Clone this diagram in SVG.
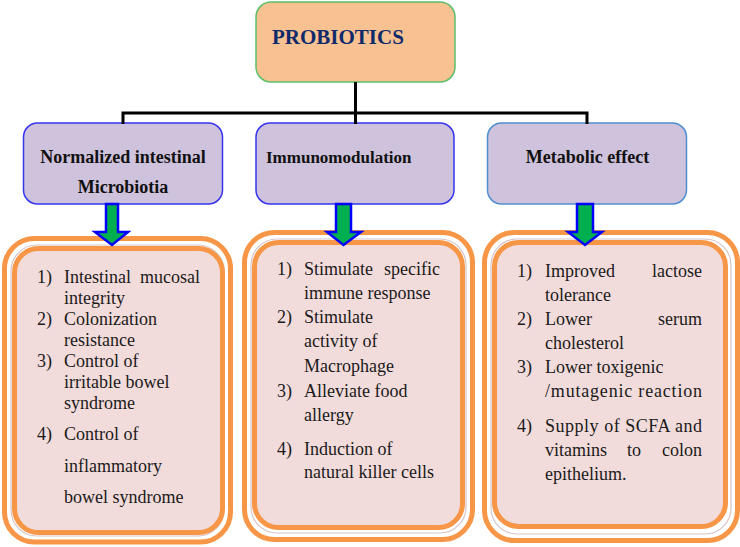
<svg xmlns="http://www.w3.org/2000/svg" width="740" height="547" viewBox="0 0 740 547">
<style>
.hdr{fill:#CFC2DC;stroke-width:1.5}
.ttl{font-weight:bold;font-size:18px;fill:#111}
.txt{font-size:18px;fill:#1a1a1a}
.ob{fill:#fff;stroke:#F79646;stroke-width:5}
.gl{fill:none;stroke:#D6C4C6;stroke-width:1.2}
.ib{fill:#F2DCDB;stroke:#F79646;stroke-width:5}
.arr{fill:#00B050;stroke:#0000FF;stroke-width:2.5;stroke-linejoin:miter}
.ln{stroke:#000;stroke-width:3;fill:none}
</style>
<rect width="740" height="547" fill="#fff"/>
<g font-family="Liberation Serif, serif">
<g id="probiotics">
<rect x="256" y="2" width="199" height="80" rx="15" fill="#F8C192" stroke="#5CBF6A" stroke-width="1.5"/>
<text x="272" y="44" font-weight="bold" font-size="21" fill="#0F2A6B">PROBIOTICS</text>
</g>
<g id="normalized">
<rect class="hdr" x="23.5" y="123" width="199" height="81" rx="14" stroke="#3535F0"/>
<text class="ttl" x="123" y="163" text-anchor="middle">Normalized intestinal</text>
<text class="ttl" x="123" y="193" text-anchor="middle">Microbiotia</text>
</g>
<g id="immunomodulation">
<rect class="hdr" x="256" y="123" width="198" height="81" rx="14" stroke="#3535F0"/>
<text class="ttl" x="266" y="163" style="font-size:17px">Immunomodulation</text>
</g>
<g id="metabolic">
<rect class="hdr" x="487.5" y="123" width="199" height="81" rx="14" stroke="#4F8FD0"/>
<text class="ttl" x="587.5" y="163" text-anchor="middle">Metabolic effect</text>
</g>
<g id="box1">
<rect class="ob" x="4.5" y="238.5" width="226" height="303.5" rx="30"/>
<rect class="gl" x="11" y="245" width="213" height="291" rx="26"/>
<rect class="ib" x="14.5" y="248.5" width="208" height="284" rx="24"/>
<g class="txt">
<text x="37" y="283">1)</text><text x="64" y="283">Intestinal</text><text x="200" y="283" text-anchor="end">mucosal</text>
<text x="64" y="304">integrity</text>
<text x="37" y="325">2)</text><text x="64" y="325">Colonization</text>
<text x="64" y="346">resistance</text>
<text x="37" y="367">3)</text><text x="64" y="367">Control of</text>
<text x="64" y="388">irritable bowel</text>
<text x="64" y="409">syndrome</text>
<text x="37" y="440">4)</text><text x="64" y="440">Control of</text>
<text x="64" y="472">inflammatory</text>
<text x="64" y="503">bowel syndrome</text>
</g>
</g>
<g id="box2">
<rect class="ob" x="244.5" y="232.5" width="228" height="307" rx="30"/>
<rect class="gl" x="251" y="239" width="215" height="294" rx="26"/>
<rect class="ib" x="254.5" y="242.5" width="208" height="285" rx="24"/>
<g class="txt">
<text x="277" y="275">1)</text><text x="304" y="275">Stimulate</text><text x="440" y="275" text-anchor="end">specific</text>
<text x="304" y="299">immune response</text>
<text x="277" y="323">2)</text><text x="304" y="323">Stimulate</text>
<text x="304" y="347">activity of</text>
<text x="304" y="372">Macrophage</text>
<text x="277" y="397">3)</text><text x="304" y="397">Alleviate food</text>
<text x="304" y="421">allergy</text>
<text x="277" y="455">4)</text><text x="304" y="455">Induction of</text>
<text x="304" y="478">natural killer cells</text>
</g>
</g>
<g id="box3">
<rect class="ob" x="484.5" y="232.5" width="253" height="308" rx="30"/>
<rect class="gl" x="491" y="239" width="240" height="295" rx="26"/>
<rect class="ib" x="494.5" y="242.5" width="231" height="284" rx="24"/>
<g class="txt">
<text x="517" y="277">1)</text><text x="545" y="277">Improved</text><text x="702" y="277" text-anchor="end">lactose</text>
<text x="545" y="301">tolerance</text>
<text x="517" y="325">2)</text><text x="545" y="325">Lower</text><text x="702" y="325" text-anchor="end">serum</text>
<text x="545" y="349">cholesterol</text>
<text x="517" y="373">3)</text><text x="545" y="373">Lower toxigenic</text>
<text x="545" y="397" textLength="157" lengthAdjust="spacing">/mutagenic reaction</text>
<text x="517" y="432">4)</text><text x="545" y="432" textLength="157" lengthAdjust="spacing">Supply of SCFA and</text>
<text x="545" y="456">vitamins</text><text x="634" y="456" text-anchor="middle">to</text><text x="702" y="456" text-anchor="end">colon</text>
<text x="545" y="480">epithelium.</text>
</g>
</g>
</g>
<g id="connectors">
<path class="ln" d="M355.5 82 V113 M121.5 113 H588.5 M123 113 V124 M355.5 113 V124 M587 113 V124"/>
<path class="arr" d="M106 204 H118 V232 H128 L112 245 L95 232 H106 Z"/>
<path class="arr" d="M336 204 H351 V232 H361 L343.5 245 L327 232 H336 Z"/>
<path class="arr" d="M577 204 H593 V232 H602 L585 245 L568 232 H577 Z"/>
</g>
</svg>
